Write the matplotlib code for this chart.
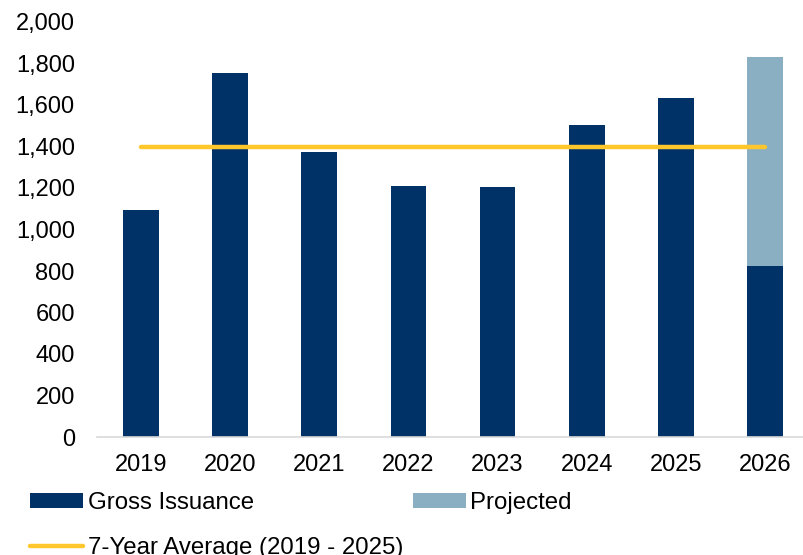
import matplotlib
matplotlib.use("Agg")
import matplotlib.pyplot as plt
from matplotlib.ticker import FuncFormatter

years = ["2019", "2020", "2021", "2022", "2023", "2024", "2025", "2026"]
gross_issuance = [1094, 1754, 1375, 1210, 1205, 1505, 1634, 824]
projected = [0, 0, 0, 0, 0, 0, 0, 1005]
avg_7yr = 1397

NAVY = "#003268"
LIGHT = "#8AAFC2"
GOLD = "#FFC72C"

plt.rcParams['font.family'] = ['Liberation Sans', 'DejaVu Sans']

fig = plt.figure(figsize=(8.04, 5.55), dpi=100)
ax = fig.add_axes([97/804, 1-437/555, 1-97/804, (437-22)/555])

x = list(range(len(years)))
b1 = ax.bar(x, gross_issuance, width=0.40, color=NAVY, label="Gross Issuance", zorder=2)
b2 = ax.bar(x, projected, width=0.40, bottom=gross_issuance, color=LIGHT, label="Projected", zorder=2)
ln, = ax.plot([x[0], x[-1]], [avg_7yr, avg_7yr], color=GOLD, lw=3.2,
              solid_capstyle='round', label="7-Year Average (2019 - 2025)", zorder=3)

ax.set_xlim(-0.494, 7.438)
ax.set_ylim(0, 2000)
ax.set_yticks(range(0, 2001, 200))
ax.yaxis.set_major_formatter(FuncFormatter(lambda v, p: f"{int(v):,}"))
ax.set_xticks(x)
ax.set_xticklabels(years)

for s in ["top", "right", "left"]:
    ax.spines[s].set_visible(False)
ax.spines["bottom"].set_color("#D9D9D9")
ax.spines["bottom"].set_linewidth(1.2)
ax.tick_params(axis='y', length=0, pad=16, labelsize=17)
ax.tick_params(axis='x', length=0, pad=12, labelsize=17)

fig.legend(handles=[b1, ln, b2], labels=["Gross Issuance", "7-Year Average (2019 - 2025)", "Projected"],
           ncol=2, loc="upper left", bbox_to_anchor=(30/804, 1-492/555),
           frameon=False, fontsize=17.3, handlelength=2.2, handleheight=0.6,
           handletextpad=0.2, columnspacing=0.4, labelspacing=0.95,
           borderaxespad=0, borderpad=0)

fig.savefig("out.png", dpi=100)
